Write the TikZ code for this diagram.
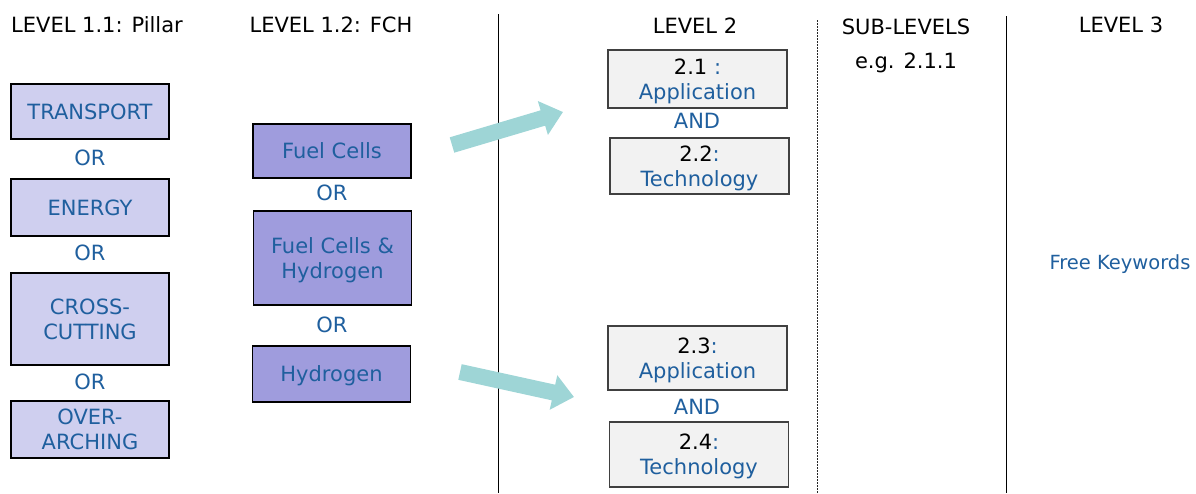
\documentclass[tikz,border=0pt]{standalone}
\usepackage{fontspec}
\setmainfont{DejaVu Sans}
\usetikzlibrary{arrows.meta}
\definecolor{pillarfill}{HTML}{CFCFEF}
\definecolor{fchfill}{HTML}{9F9CDD}
\definecolor{lvlfill}{HTML}{F2F2F2}
\definecolor{keyblue}{HTML}{1F5F9E}
\definecolor{flowteal}{HTML}{9ED5D6}
\begin{document}
\begin{tikzpicture}[x=1pt, y=-1pt,
		font=\fontsize{21}{25}\selectfont,
		hdr/.style={anchor=base, inner sep=0pt},
		conj/.style={text=keyblue, inner sep=0pt},
		pillar/.style={draw, line width=1.5pt, fill=pillarfill, text=keyblue, align=center, minimum width=158pt, inner sep=2pt, text depth=0pt},
		fch/.style={pillar, fill=fchfill},
		lvl/.style={draw=black!75, line width=1.5pt, fill=lvlfill, align=center, minimum width=179pt, inner sep=2pt, text depth=0pt},
		divider/.style={line width=1pt},
		flow/.style={draw=flowteal, line width=16pt, -{Triangle[width=34pt, length=21pt]}}
		]
	\useasboundingbox (0,0) rectangle (1196,493);

	\node [hdr, anchor=base west] (h11) at (11,32) {LEVEL 1.1: Pillar};
	\node [hdr] (h12) at (331,32) {LEVEL 1.2: FCH};
	\node [hdr] (h2) at (695,33) {LEVEL 2};
	\node [hdr] (hsub) at (906,34) {SUB-LEVELS};
	\node [hdr] (heg) at (906,68) {e.g. 2.1.1};
	\node [hdr] (h3) at (1121,32) {LEVEL 3};

	\node [pillar, minimum height=55pt] (transport) at (90,111.5) {TRANSPORT};
	\node [conj] (or1) at (90,158) {OR};
	\node [pillar, minimum height=57pt] (energy) at (90,207.5) {ENERGY};
	\node [conj] (or2) at (90,253) {OR};
	\node [pillar, minimum height=92pt] (cross) at (90,319) {CROSS-\\CUTTING};
	\node [conj] (or3) at (90,382) {OR};
	\node [pillar, minimum height=57pt] (over) at (90,429.5) {OVER-\\ARCHING};

	\node [fch, minimum height=54pt] (fc) at (332,151) {Fuel Cells};
	\node [conj] (or4) at (332,193) {OR};
	\node [fch, minimum height=94pt] (fch) at (332.5,258) {Fuel Cells \&\\Hydrogen};
	\node [conj] (or5) at (332,325) {OR};
	\node [fch, minimum height=56pt] (hyd) at (331.5,374) {Hydrogen};

	\node [lvl, minimum height=58pt] (app1) at (697.5,79) {2.1 \textcolor{keyblue}{:}\\\textcolor{keyblue}{Application}};
	\node [conj] (and1) at (697,121) {AND};
	\node [lvl, minimum height=56pt] (tech1) at (699.5,166) {2.2\textcolor{keyblue}{:}\\\textcolor{keyblue}{Technology}};
	\node [lvl, minimum height=64pt] (app2) at (697.5,358) {2.3\textcolor{keyblue}{:}\\\textcolor{keyblue}{Application}};
	\node [conj] (and2) at (697,407) {AND};
	\node [lvl, minimum height=65pt] (tech2) at (699,454.5) {2.4\textcolor{keyblue}{:}\\\textcolor{keyblue}{Technology}};

	\node [hdr, text=keyblue, font=\fontsize{19.5}{23}\selectfont] (kw) at (1120,269) {Free Keywords};

	\coordinate (d1t) at (498.5,14);
	\coordinate (d1b) at (498.5,493);
	\coordinate (d2t) at (817,20);
	\coordinate (d2b) at (817,493);
	\coordinate (d3t) at (1006,16);
	\coordinate (d3b) at (1006,493);
	\draw [divider] (d1t) -- (d1b);
	\draw [divider, black!85, dash pattern=on 2pt off 1pt] (d2t) -- (d2b);
	\draw [divider] (d3t) -- (d3b);

	\coordinate (f1s) at (452,145);
	\coordinate (f1e) at (563,112);
	\coordinate (f2s) at (460,372);
	\coordinate (f2e) at (574,397);
	\draw [flow] (f1s) -- (f1e);
	\draw [flow] (f2s) -- (f2e);
\end{tikzpicture}
\end{document}
